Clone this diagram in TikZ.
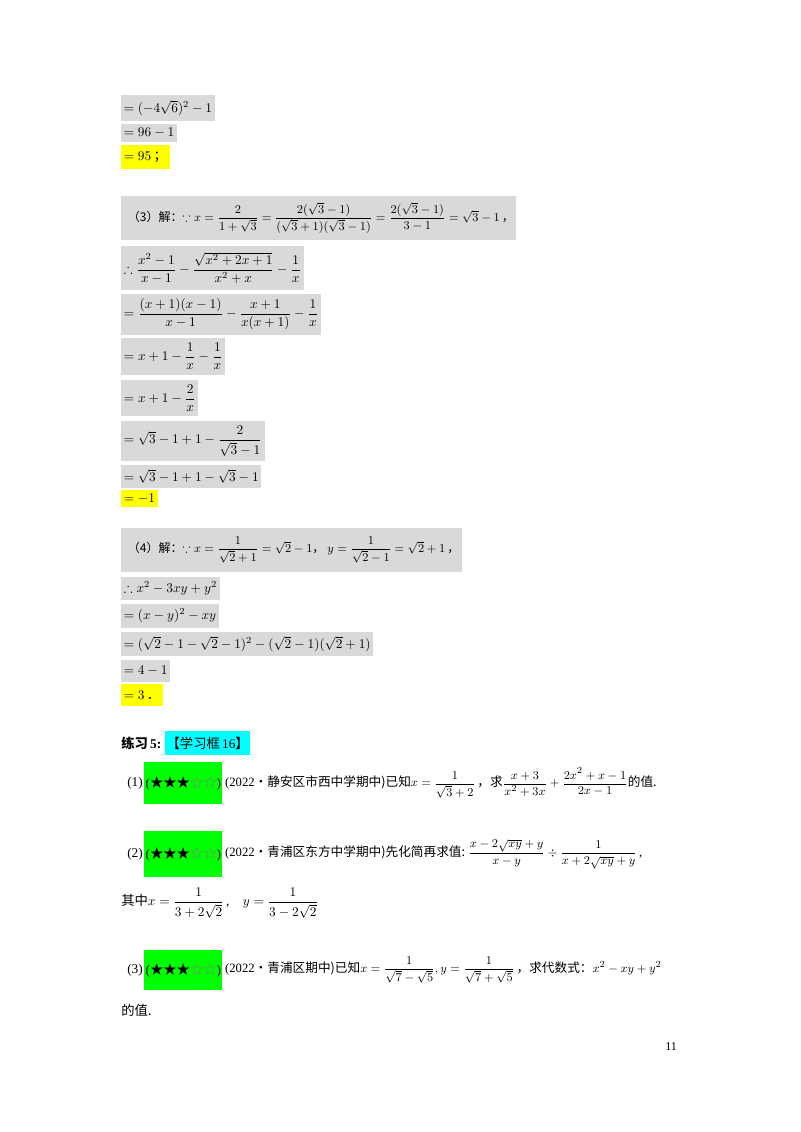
\documentclass[tikz,border=0pt]{standalone}
\usepackage{fontspec}
\usepackage{amsmath,amssymb}
\setmainfont{Liberation Serif}
\newfontfamily\cjk{Noto Sans CJK SC}
\definecolor{boxgray}{HTML}{D9D9D9}
\definecolor{hlyellow}{HTML}{FFFF00}
\definecolor{hlgreen}{HTML}{00FF00}
\definecolor{hlcyan}{HTML}{00FFFF}
\newcommand{\stars}{{\cjk ★★★}\textcolor{gray}{\cjk ☆☆}}
\begin{document}
\fontsize{10}{12}\selectfont
\begin{tikzpicture}
[
	x=0.75pt,y=-0.75pt,
	gb/.style={anchor=west,fill=boxgray,inner xsep=2pt,inner ysep=0pt},
	yb/.style={anchor=west,fill=hlyellow,inner xsep=2pt,inner ysep=0pt},
	tx/.style={anchor=west,inner sep=0pt},
	gr/.style={anchor=west,fill=hlgreen,inner xsep=1pt,inner ysep=0pt,minimum height=32pt}
]
\useasboundingbox (0,0) rectangle (800,1132);

\node[gb,minimum height=19pt] (a1) at (121,108) {$=(-4\sqrt6)^2-1$};
\node[gb,minimum height=13pt] (a2) at (121,133) {$=96-1$};
\node[yb,minimum height=18pt] (a3) at (121,157) {$=95$\,{\cjk ；}};

\node[gb,minimum height=33pt] (b1) at (121,218) {\fontsize{9}{11}\selectfont\hspace{3pt}{\cjk （3）解：}$\because x=\dfrac{2}{1+\sqrt3}=\dfrac{2(\sqrt3-1)}{(\sqrt3+1)(\sqrt3-1)}=\dfrac{2(\sqrt3-1)}{3-1}=\sqrt3-1$\,{\cjk ，}\hspace{3pt}};
\node[gb,minimum height=33pt] (b2) at (121,268) {$\therefore\dfrac{x^2-1}{x-1}-\dfrac{\sqrt{x^2+2x+1}}{x^2+x}-\dfrac1x$};
\node[gb,minimum height=31pt] (b3) at (121,314.5) {$=\dfrac{(x+1)(x-1)}{x-1}-\dfrac{x+1}{x(x+1)}-\dfrac1x$};
\node[gb,minimum height=28pt] (b4) at (121,356.5) {$=x+1-\dfrac1x-\dfrac1x$};
\node[gb,minimum height=27pt] (b5) at (121,398) {$=x+1-\dfrac2x$};
\node[gb,minimum height=30pt] (b6) at (121,441) {$=\sqrt3-1+1-\dfrac{2}{\sqrt3-1}$};
\node[gb,minimum height=17pt] (b7) at (121,476.5) {$=\sqrt3-1+1-\sqrt3-1$};
\node[yb,minimum height=13pt] (b8) at (121,498.5) {$=-1$};

\node[gb,minimum height=33pt] (c1) at (121,550) {\fontsize{9}{11}\selectfont\hspace{3pt}{\cjk （4）解：}$\because x=\dfrac{1}{\sqrt2+1}=\sqrt2-1${\cjk ，}\ $y=\dfrac{1}{\sqrt2-1}=\sqrt2+1$\,{\cjk ，}};
\node[gb,minimum height=17pt] (c2) at (121,588.5) {$\therefore x^2-3xy+y^2$};
\node[gb,minimum height=18pt] (c3) at (121,616) {$=(x-y)^2-xy$};
\node[gb,minimum height=18pt] (c4) at (121,644) {$=(\sqrt2-1-\sqrt2-1)^2-(\sqrt2-1)(\sqrt2+1)$};
\node[gb,minimum height=16pt] (c5) at (121,671) {$=4-1$};
\node[yb,minimum height=16pt] (c6) at (121,695) {$=3$\,{\cjk ．}};

\node[tx] (p0) at (121,743) {\bfseries{\cjk 练习}\,5:};
\node[anchor=west,fill=hlcyan,inner xsep=1pt,minimum height=18pt] (p0b) at (165,743) {{\cjk 【学习框}\,16{\cjk 】}};

\node[tx] (q1) at (127,783) {(1)};
\node[gr] (s1) at (144,783) {(\stars)};
\node[tx] (t1) at (s1.east) {\fontsize{9.5}{11}\selectfont\,(2022{\cjk ·静安区市西中学期中)已知}$x=\dfrac{1}{\sqrt3+2}$\,{\cjk ，求}$\dfrac{x+3}{x^2+3x}+\dfrac{2x^2+x-1}{2x-1}${\cjk 的值.}};

\node[tx] (q2) at (127,854) {(2)};
\node[gr,minimum height=35pt] (s2) at (144,854) {(\stars)};
\node[tx] (t2) at (s2.east) {\fontsize{9.5}{11}\selectfont\,(2022{\cjk ·青浦区东方中学期中)先化简再求值:}\ $\dfrac{x-2\sqrt{xy}+y}{x-y}\div\dfrac{1}{x+2\sqrt{xy}+y}$\,,};
\node[tx] (t3) at (121,903) {{\cjk 其中}$x=\dfrac{1}{3+2\sqrt2}$\,,\quad$y=\dfrac{1}{3-2\sqrt2}$};

\node[tx] (q3) at (127,970) {(3)};
\node[gr,minimum height=30pt] (s3) at (144,970) {(\stars)};
\node[tx] (t4) at (s3.east) {\fontsize{9.5}{11}\selectfont\,(2022{\cjk ·青浦区期中)已知}$x=\dfrac{1}{\sqrt7-\sqrt5},y=\dfrac{1}{\sqrt7+\sqrt5}$\,{\cjk ，求代数式：}$x^2-xy+y^2$};
\node[tx] (t5) at (121,1010) {{\cjk 的值.}};

\node[tx] (pg) at (665,1047) {\small 11};
\end{tikzpicture}
\end{document}
